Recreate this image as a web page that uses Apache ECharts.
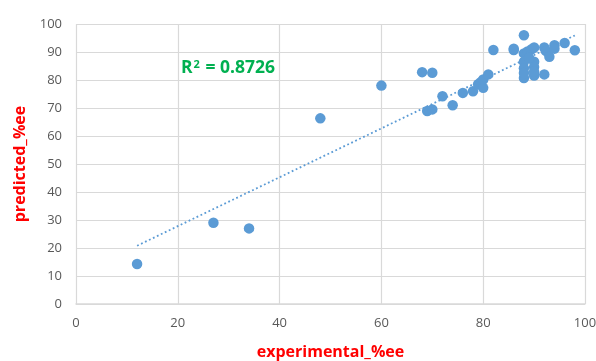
<!DOCTYPE html>
<html>
<head>
<meta charset="utf-8">
<script src="https://cdn.jsdelivr.net/npm/echarts@6/dist/echarts.min.js"></script>
<style>
  html, body { margin: 0; padding: 0; background: #fff; }
  #chart { width: 596px; height: 361px; }
</style>
</head>
<body>
<div id="chart"></div>
<script>
// Experimental vs predicted enantiomeric excess
const experimental = [12, 27, 34, 48, 60, 68, 70, 69, 70, 72, 74, 76, 78, 79, 79.5, 80, 80, 81, 82, 86, 86, 88, 88, 88.7, 89.5, 90, 92, 92.3, 93, 94, 94, 96, 98, 88, 90, 88, 90, 88, 90, 90, 92, 89, 88];
const predicted    = [14.3, 29, 27, 66.3, 78, 82.8, 82.6, 68.9, 69.5, 74.2, 71, 75.4, 76, 78.5, 79.2, 77.2, 80.2, 82, 90.7, 90.7, 91.2, 96, 89.5, 90.2, 91, 91.6, 91.6, 90.4, 88.3, 92.4, 91.2, 93.2, 90.6, 86.5, 86.5, 84.2, 84.6, 80.7, 81.6, 83, 82, 88, 82.5];
const axisTicks = [0, 20, 40, 60, 80, 100];
const rSquaredText = '0.8726';

const points = experimental.map((x, i) => [x, predicted[i]]);

// Least-squares linear trendline over the data range
function linearFit(xs, ys) {
  const n = xs.length;
  const mx = xs.reduce((a, b) => a + b, 0) / n;
  const my = ys.reduce((a, b) => a + b, 0) / n;
  let sxy = 0, sxx = 0;
  for (let i = 0; i < n; i++) {
    sxy += (xs[i] - mx) * (ys[i] - my);
    sxx += (xs[i] - mx) * (xs[i] - mx);
  }
  const slope = sxy / sxx;
  return { slope, intercept: my - slope * mx };
}
const fit = linearFit(experimental, predicted);
const xMin = Math.min(...experimental);
const xMax = Math.max(...experimental);
const trend = [[xMin, fit.intercept + fit.slope * xMin], [xMax, fit.intercept + fit.slope * xMax]];

const chart = echarts.init(document.getElementById('chart'), null, { renderer: 'canvas' });
const gridColor = '#d9d9d9';
const labelColor = '#595959';
const fontFamily = "'Open Sans', 'Liberation Sans', sans-serif";

chart.setOption({
  animation: false,
  backgroundColor: '#ffffff',
  grid: { left: 76, right: 11, top: 24, bottom: 57, outerBoundsMode: 'none', containLabel: false },
  title: {
    text: '{b|R}{s|2}{b| = ' + rSquaredText + '}',
    left: 176, top: 54,
    textStyle: {
      rich: {
        b: { fontFamily, fontSize: 17.5, fontWeight: 'bold', color: '#00b050' },
        s: { fontFamily, fontSize: 11, fontWeight: 'bold', color: '#00b050', verticalAlign: 'top', padding: [0, 1, 8, 1] }
      }
    }
  },
  xAxis: {
    type: 'value', min: axisTicks[0], max: axisTicks[axisTicks.length - 1], interval: 20,
    name: 'experimental_%ee', nameLocation: 'middle', nameGap: 40,
    nameTextStyle: { color: '#ff0000', fontWeight: 'bold', fontSize: 16, fontFamily },
    axisLine: { show: true, lineStyle: { color: gridColor, width: 1.5 } },
    axisTick: { show: false },
    axisLabel: { color: labelColor, fontSize: 13, fontFamily, margin: 13 },
    splitLine: { show: true, lineStyle: { color: gridColor, width: 1.2 } }
  },
  yAxis: {
    type: 'value', min: 0, max: 100, interval: 10,
    name: 'predicted_%ee', nameLocation: 'middle', nameGap: 45,
    nameTextStyle: { color: '#ff0000', fontWeight: 'bold', fontSize: 16, fontFamily },
    axisLine: { show: false },
    axisTick: { show: false },
    axisLabel: { color: labelColor, fontSize: 13, fontFamily, margin: 14 },
    splitLine: { show: true, lineStyle: { color: gridColor, width: 1.2 } }
  },
  series: [
    {
      type: 'line', data: trend, showSymbol: false, symbol: 'none', silent: true,
      lineStyle: { color: '#5b9bd5', width: 1.8, type: [1.8, 2.6] },
      z: 1
    },
    {
      type: 'scatter', data: points, symbolSize: 10.5,
      itemStyle: { color: '#5b9bd5', opacity: 1 },
      z: 2
    }
  ]
});
</script>
</body>
</html>
